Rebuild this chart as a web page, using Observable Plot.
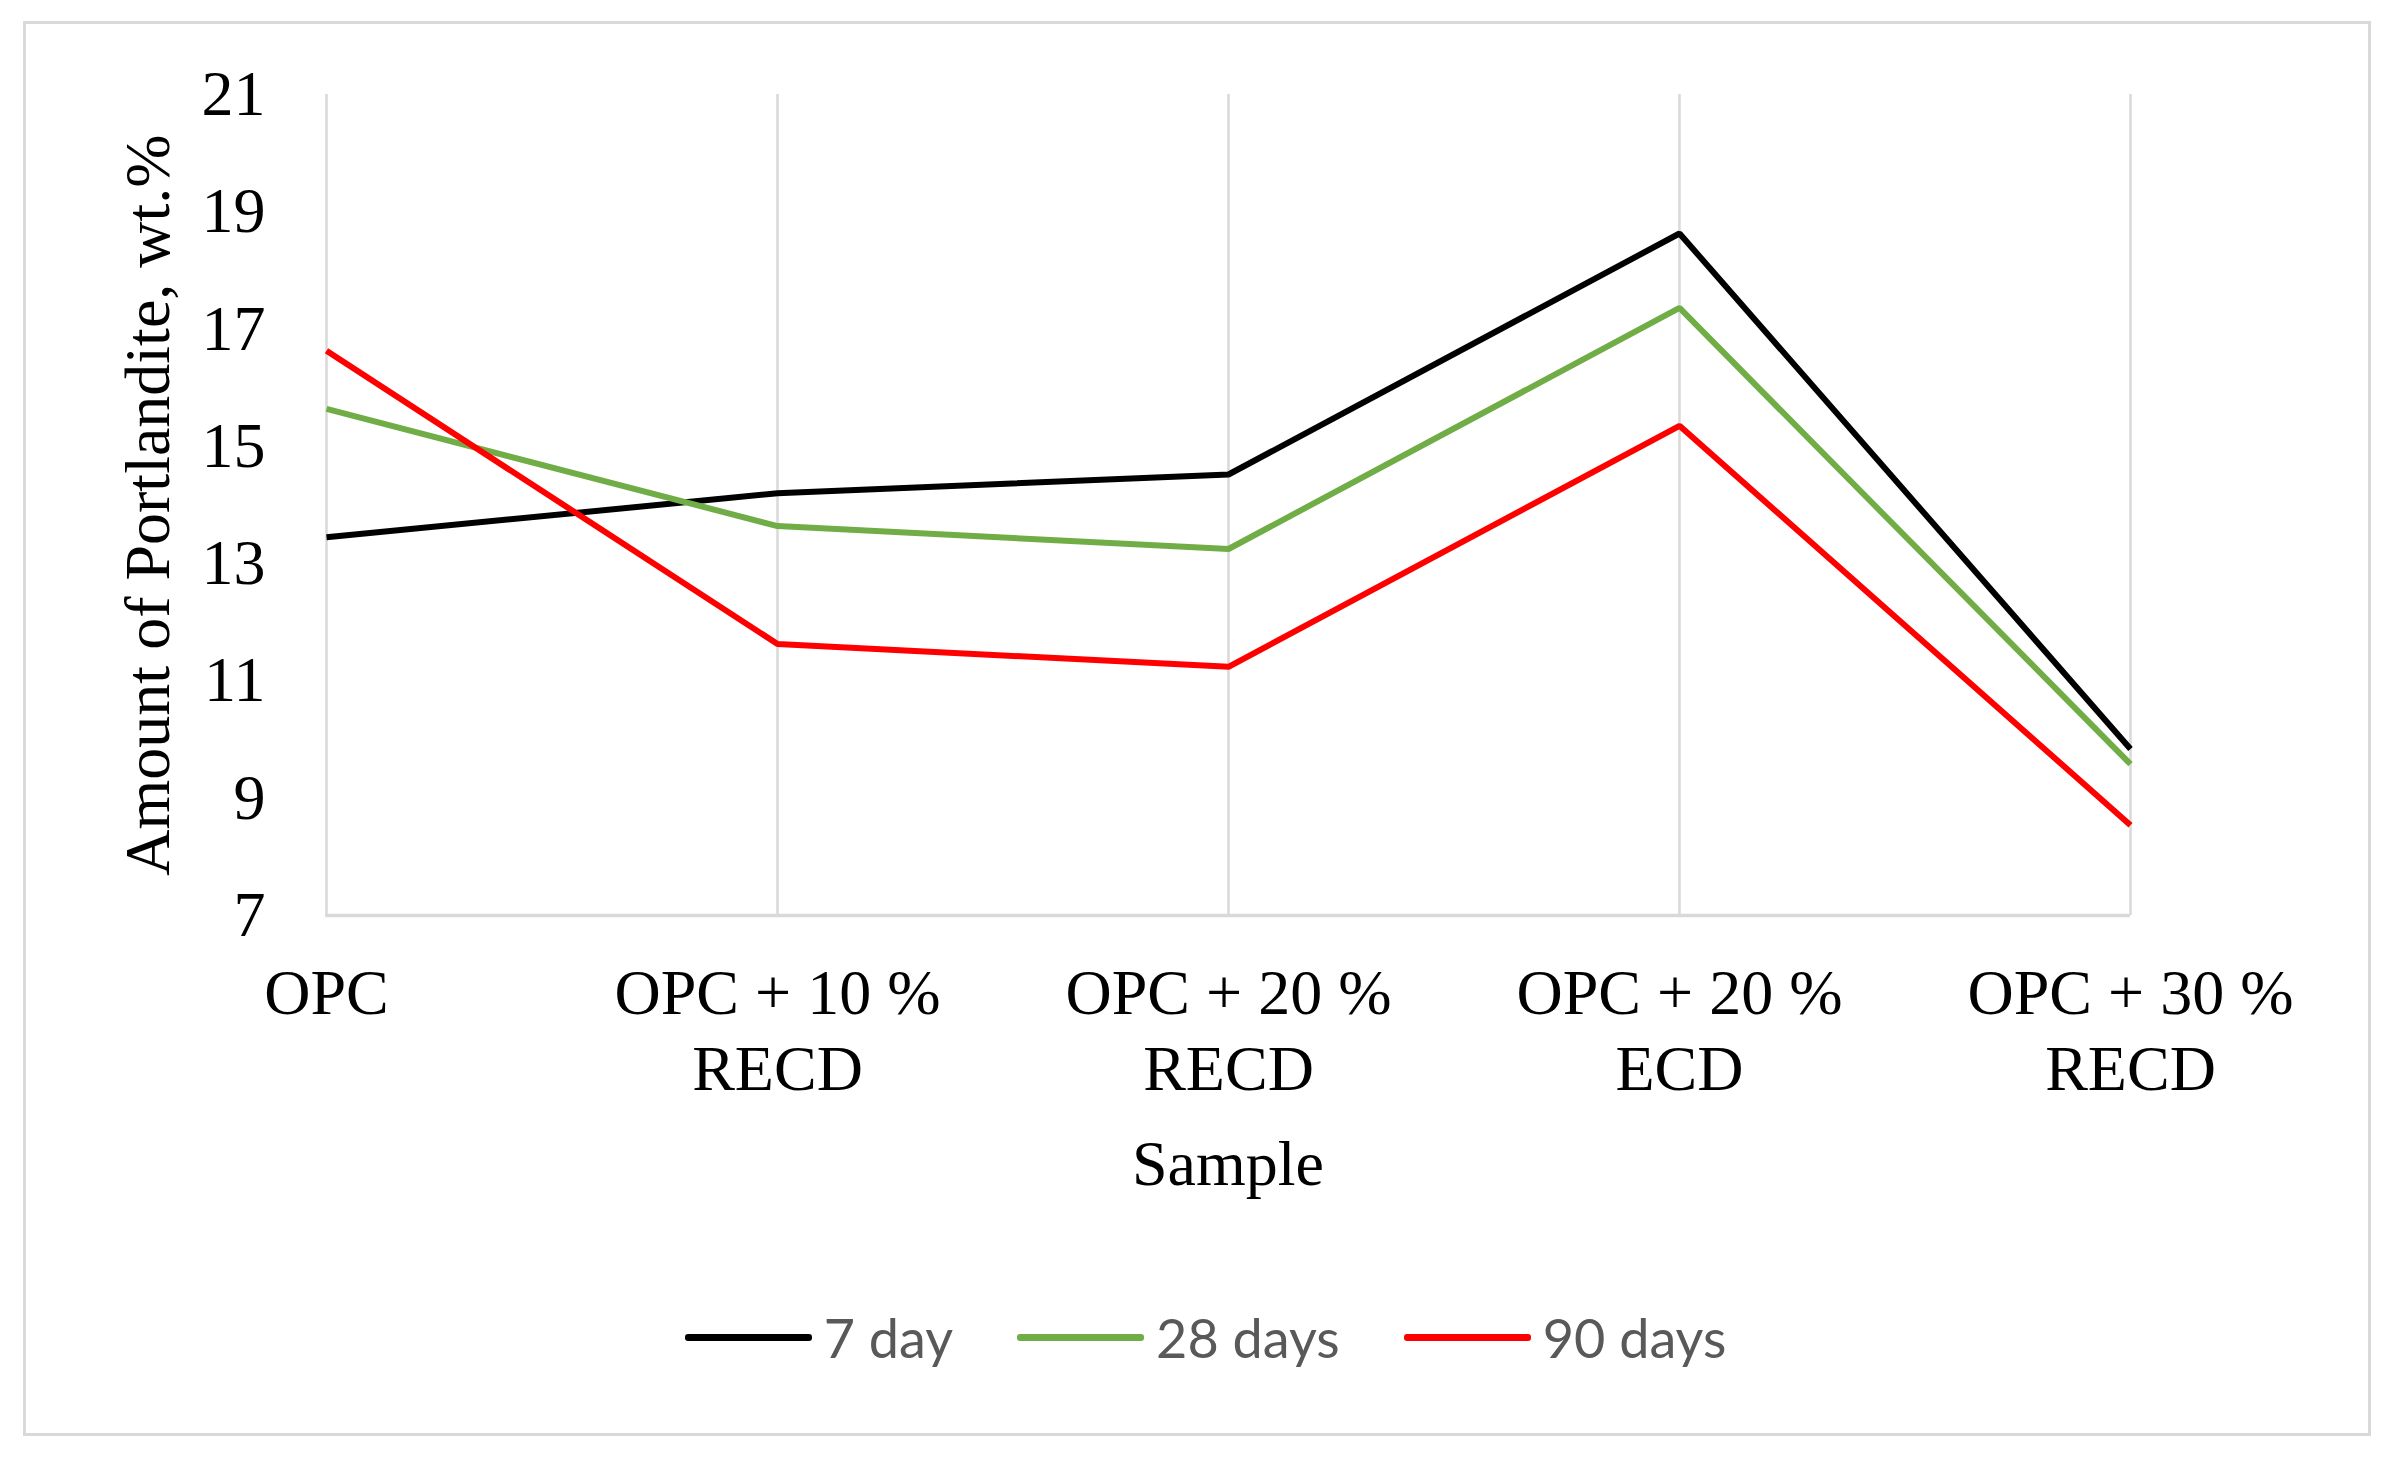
<!DOCTYPE html>
<html>
<head>
<meta charset="utf-8">
<script src="https://cdn.jsdelivr.net/npm/d3@7"></script>
<script src="https://cdn.jsdelivr.net/npm/@observablehq/plot@0.6"></script>
<style>
  html, body { margin: 0; padding: 0; background: #fff; }
  #wrap { position: relative; width: 2391px; height: 1458px; overflow: hidden; background: #fff; }
  #frame { position: absolute; left: 23px; top: 21px; width: 2342px; height: 1409px; border: 3px solid #d9d9d9; box-sizing: content-box; }
  #chart { position: absolute; left: 0; top: 0; }
  #legend { position: absolute; left: 0; top: 1305px; width: 2391px; display: flex; justify-content: center; align-items: center;
            font-family: Lato, "Open Sans", sans-serif; font-size: 54px; color: #595959; padding-left: 20px; box-sizing: border-box; }
  .item { display: flex; align-items: center; margin: 0 32px; }
  .swatch { width: 127px; height: 7px; border-radius: 3px; margin-right: 12px; }
</style>
</head>
<body>
<div id="wrap">
  <div id="frame"></div>
  <div id="chart"></div>
  <div id="legend"></div>
</div>
<script>
// ---- data ----
const categories = ["OPC", "OPC10RECD", "OPC20RECD", "OPC20ECD", "OPC30RECD"];
const tickLabels = ["OPC", "OPC + 10 %\nRECD", "OPC + 20 %\nRECD", "OPC + 20 %\nECD", "OPC + 30 %\nRECD"];
const seriesNames = ["7 day", "28 days", "90 days"];
const seriesColors = ["#000000", "#70ad47", "#ff0000"];
const day7 = [13.45, 14.2, 14.52, 18.63, 9.84];
const day28 = [15.64, 13.64, 13.25, 17.36, 9.58];
const day90 = [16.63, 11.63, 11.24, 15.35, 8.54];
const yTicks = [7, 9, 11, 13, 15, 17, 19, 21];

const seriesValues = [day7, day28, day90];
const data = [];
seriesNames.forEach((s, i) => {
  categories.forEach((c, j) => data.push({series: s, cat: c, value: seriesValues[i][j]}));
});
const labelOf = new Map(categories.map((c, i) => [c, tickLabels[i]]));

const W = 2391, H = 1220;
const plot = Plot.plot({
  width: W,
  height: H,
  marginLeft: 325,
  marginRight: 261,
  marginTop: 94,
  marginBottom: H - 915,
  style: { fontFamily: '"Liberation Serif", "Times New Roman", serif', color: "#000", background: "transparent", overflow: "visible" },
  x: { type: "point", domain: categories, padding: 0 },
  y: { domain: [7, 21] },
  color: { domain: seriesNames, range: seriesColors },
  marks: [
    Plot.gridX(categories, { stroke: "#d9d9d9", strokeOpacity: 1, strokeWidth: 2.5 }),
    Plot.ruleY([7], { stroke: "#d9d9d9", strokeWidth: 3.5 }),
    Plot.axisY(yTicks, { tickSize: 0, tickPadding: 60, fontSize: 64, label: null, fill: "#000", tickFormat: (d) => String(d) }),
    Plot.axisX(categories, { tickSize: 0, tickPadding: 45, fontSize: 64, lineHeight: 1.18, label: null,
                             tickFormat: (d) => labelOf.get(d), fill: "#000" }),
    Plot.text(["Amount of Portlandite, wt.%"], { frameAnchor: "left", dx: -177, rotate: -90, fontSize: 64, fill: "#000", textAnchor: "middle" }),
    Plot.text(["Sample"], { frameAnchor: "bottom", dy: 269, fontSize: 64, fill: "#000" }),
    Plot.line(data, { x: "cat", y: "value", stroke: "series", strokeWidth: 6, strokeLinejoin: "miter", strokeLinecap: "butt" })
  ]
});
document.getElementById("chart").appendChild(plot);

const legend = document.getElementById("legend");
seriesNames.forEach((s, i) => {
  const item = document.createElement("div");
  item.className = "item";
  const sw = document.createElement("div");
  sw.className = "swatch";
  sw.style.background = seriesColors[i];
  const t = document.createElement("span");
  t.textContent = s;
  item.appendChild(sw);
  item.appendChild(t);
  legend.appendChild(item);
});
</script>
</body>
</html>
